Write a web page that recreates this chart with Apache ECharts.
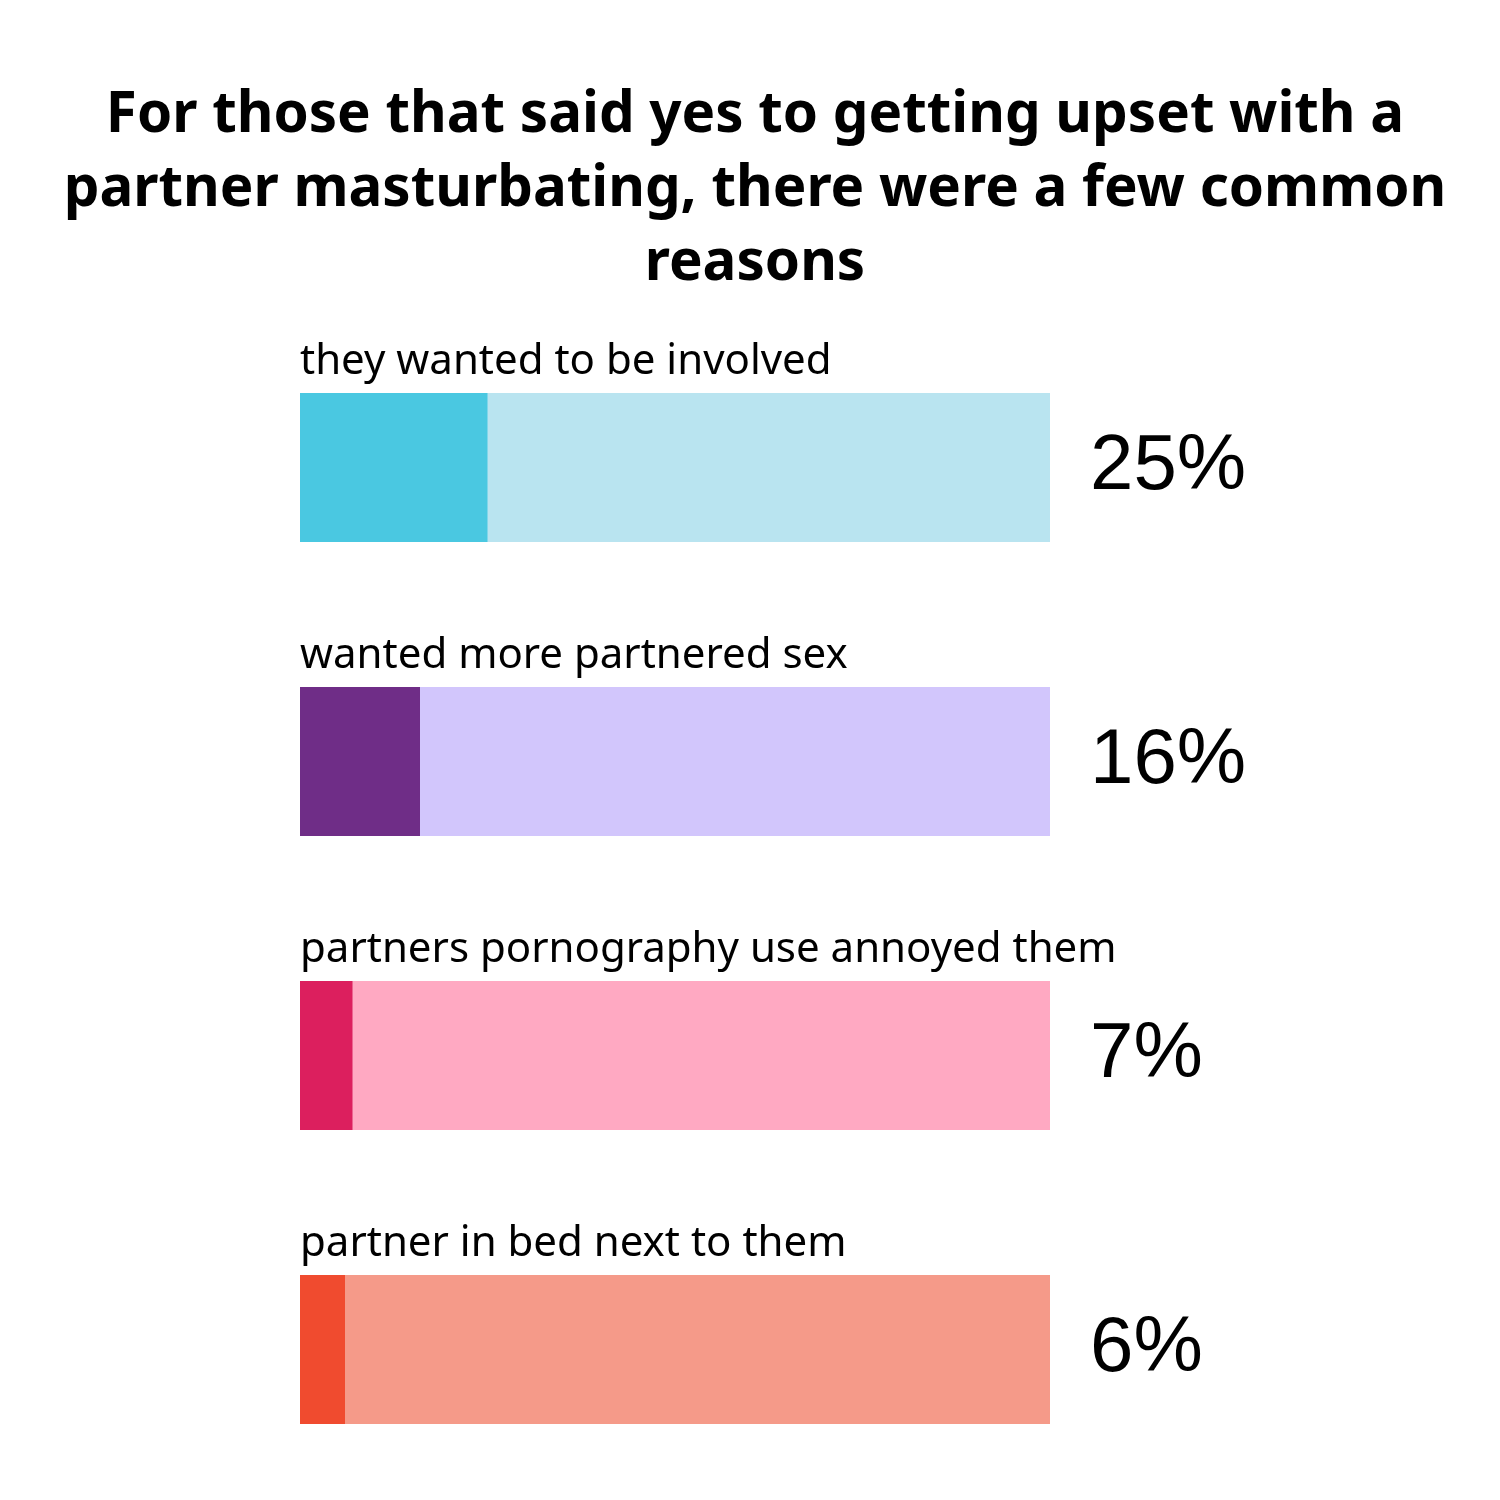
<!DOCTYPE html>
<html>
<head>
<meta charset="utf-8">
<title>Reasons</title>
<script src="https://cdn.jsdelivr.net/npm/echarts@6/dist/echarts.min.js"></script>
<style>
  html, body { margin: 0; padding: 0; background: #fff; }
  #chart { width: 1500px; height: 1500px; }
</style>
</head>
<body>
<div id="chart"></div>
<script>
// chart data
var reasons = [
  'they wanted to be involved',
  'wanted more partnered sex',
  'partners pornography use annoyed them',
  'partner in bed next to them'
];
var shares = [25, 16, 7, 6];
var totals = [100, 100, 100, 100];
var pctLabels = ['25%', '16%', '7%', '6%'];

var darkColors = ['#4AC8E1', '#6F2D87', '#DC1F5E', '#F04B2F'];
var lightColors = ['#B9E4F0', '#D2C6FC', '#FFA9C2', '#F59A89'];

var chart = echarts.init(document.getElementById('chart'));

var option = {
  backgroundColor: '#ffffff',
  animation: false,
  title: {
    text: 'For those that said yes to getting upset with a\npartner masturbating, there were a few common\nreasons',
    left: 750,
    top: 74,
    textAlign: 'center',
    textStyle: {
      fontFamily: 'Noto Sans',
      fontWeight: 'bold',
      fontSize: 56.5,
      lineHeight: 74,
      color: '#000'
    }
  },
  grid: {
    left: 300,
    width: 750,
    top: 320.5,
    height: 1176
  },
  xAxis: {
    type: 'value',
    min: 0,
    max: 100,
    show: false
  },
  yAxis: [
    {
      type: 'category',
      data: reasons,
      inverse: true,
      show: false
    },
    {
      type: 'category',
      data: pctLabels,
      inverse: true,
      position: 'right',
      axisLine: { show: false },
      axisTick: { show: false },
      axisLabel: {
        margin: 40,
        padding: [6, 0, 0, 0],
        fontFamily: 'Liberation Sans',
        fontSize: 78,
        color: '#000'
      }
    }
  ],
  series: [
    {
      type: 'bar',
      data: totals.map(function (v, i) {
        return { value: v, itemStyle: { color: lightColors[i] } };
      }),
      barWidth: 149,
      barGap: '-100%',
      silent: true,
      label: {
        show: true,
        position: [0, -10],
        align: 'left',
        verticalAlign: 'bottom',
        formatter: function (p) { return reasons[p.dataIndex]; },
        fontFamily: 'Noto Sans',
        fontSize: 42,
        color: '#000'
      }
    },
    {
      type: 'bar',
      data: shares.map(function (v, i) {
        return { value: v, itemStyle: { color: darkColors[i] } };
      }),
      barWidth: 149,
      silent: true
    }
  ]
};

chart.setOption(option);
</script>
</body>
</html>
